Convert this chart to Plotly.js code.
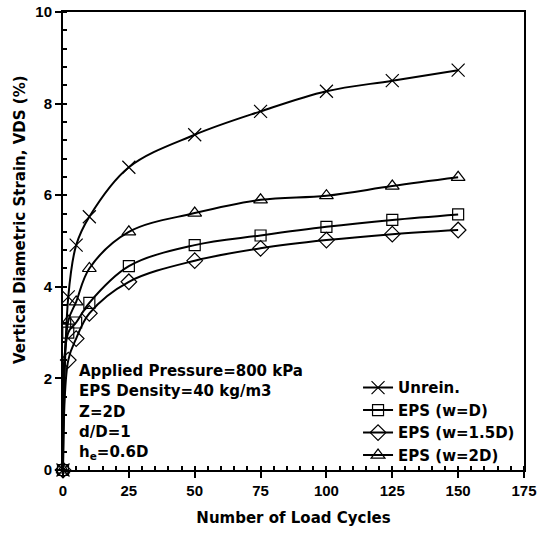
<!DOCTYPE html>
<html>
<head>
<meta charset="utf-8">
<script src="https://cdn.plot.ly/plotly-3.0.1.min.js"></script>
<style>html,body{margin:0;padding:0;background:#fff;}</style>
</head>
<body>
<div id="chart" style="width:543px;height:533px;"></div>
<script>
// Data
const loadCycles = [0, 2, 5, 10, 25, 50, 75, 100, 125, 150];
const unrein   = [0, 3.78, 4.91, 5.53, 6.61, 7.32, 7.83, 8.27, 8.50, 8.73];
const epsWD    = [0, 3.00, 3.22, 3.65, 4.45, 4.91, 5.12, 5.31, 5.46, 5.58];
const epsW15D  = [0, 2.40, 2.87, 3.42, 4.11, 4.57, 4.84, 5.02, 5.15, 5.24];
const epsW2D   = [0, 3.25, 3.67, 4.40, 5.20, 5.61, 5.90, 5.99, 6.20, 6.39];
const seriesNames = ["Unrein.", "EPS (w=D)", "EPS (w=1.5D)", "EPS (w=2D)"];
const xTickVals = [0, 25, 50, 75, 100, 125, 150, 175];
const yTickVals = [0, 2, 4, 6, 8, 10];
const xTitle = "Number of Load Cycles";
const yTitle = "Vertical Diametric Strain, VDS (%)";
const noteLines = ["Applied Pressure=800 kPa", "EPS Density=40 kg/m3", "Z=2D", "d/D=1", "h<sub>e</sub>=0.6D"];

const textFont = {family: "DejaVu Sans, Arial, sans-serif", size: 15, color: "#000", weight: "bold"};
const tickFont = {family: "Liberation Sans, Arial, sans-serif", size: 15, color: "#000", weight: "bold"};

function mk(y, name, symbol, size) {
  return {
    x: loadCycles, y: y, name: name, type: "scatter", mode: "lines+markers",
    line: {color: "#000", width: 2, shape: "spline", smoothing: 1},
    marker: {symbol: symbol, size: size, color: "#000", line: {color: "#000", width: 1.2}},
    cliponaxis: false
  };
}

const traces = [
  mk(unrein, seriesNames[0], "x-thin-open", 13),
  mk(epsWD, seriesNames[1], "square-open", 11),
  mk(epsW15D, seriesNames[2], "diamond-open", 12),
  mk(epsW2D, seriesNames[3], "triangle-up-open", 12)
];

const noteY = [0.2155, 0.172, 0.127, 0.082, 0.038];
const annotations = noteLines.map((t, i) => ({
  text: t, xref: "paper", yref: "paper", x: 0.031, y: noteY[i],
  xanchor: "left", yanchor: "middle", showarrow: false, align: "left", font: textFont
}));
annotations.push({
  text: yTitle, xref: "paper", yref: "paper", x: -0.0933, y: 0.546,
  xanchor: "center", yanchor: "middle", textangle: -90, showarrow: false, font: textFont
});

const layout = {
  width: 543, height: 533,
  margin: {l: 63, r: 19, t: 12, b: 63},
  paper_bgcolor: "#fff", plot_bgcolor: "#fff",
  showlegend: true,
  legend: {
    x: 0.64, y: 0.2155, xanchor: "left", yanchor: "top",
    bgcolor: "rgba(0,0,0,0)", font: textFont, tracegroupgap: 0
  },
  xaxis: {
    range: [0, 175], tickvals: xTickVals, ticks: "outside", ticklen: 6, tickwidth: 1.5,
    tickcolor: "#000", showline: true, linecolor: "#000", linewidth: 2, mirror: true,
    showgrid: false, zeroline: false, tickfont: tickFont,
    minor: {dtick: 5, ticks: "inside", ticklen: 4, tickwidth: 1.5, tickcolor: "#000", showgrid: false},
    title: {text: xTitle, font: textFont, standoff: 14}
  },
  yaxis: {
    range: [0, 10], tickvals: yTickVals, ticks: "outside", ticklen: 6, tickwidth: 1.5,
    tickcolor: "#000", showline: true, linecolor: "#000", linewidth: 2, mirror: true,
    showgrid: false, zeroline: false, tickfont: tickFont,
    minor: {dtick: 0.4, ticks: "inside", ticklen: 4, tickwidth: 1.5, tickcolor: "#000", showgrid: false}
  },
  annotations: annotations
};

Plotly.newPlot("chart", traces, layout, {displayModeBar: false, responsive: false});
</script>
</body>
</html>
